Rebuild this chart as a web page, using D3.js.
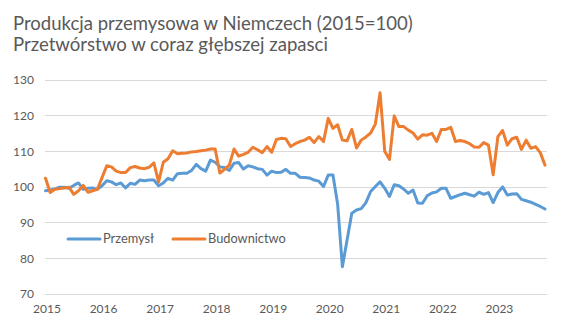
<!DOCTYPE html>
<html>
<head>
<meta charset="utf-8">
<script src="https://cdn.jsdelivr.net/npm/d3@7/dist/d3.min.js"></script>
<style>
  html, body { margin: 0; padding: 0; background: #fff; }
  svg { display: block; }
  text { font-family: Lato, "Open Sans", "Liberation Sans", sans-serif; fill: #595959; }
</style>
</head>
<body>
<svg id="chart" width="564" height="336"></svg>
<script>
// Monthly index values, 2015 = 100, from Jan 2015 to Nov 2023
const firstMonth = [2015, 0];
const monthCount = 107;

const przemysl = [
  98.8, 99.0, 99.3, 99.8, 99.8, 99.5, 100.3, 101.0, 99.2, 99.5, 99.6, 99.2,
  100.2, 101.6, 101.3, 100.5, 101.0, 99.6, 100.9, 100.6, 101.8, 101.6, 101.8, 101.8,
  100.2, 101.0, 102.3, 101.8, 103.6, 103.7, 103.7, 104.5, 106.2, 105.0, 104.3, 107.4,
  106.8, 105.5, 105.3, 104.5, 106.5, 106.7, 104.9, 105.8, 105.5, 105.0, 104.8, 103.2,
  104.3, 103.9, 104.0, 104.8, 103.7, 103.7, 102.6, 102.5, 102.4, 101.8, 101.5, 100.0,
  103.2, 103.2, 95.0, 77.5, 85.0, 92.5, 93.4, 93.8, 95.5, 98.6, 100.0, 101.3,
  99.5, 97.2, 100.5, 100.2, 99.3, 98.1, 99.0, 95.4, 95.3, 97.4, 98.2, 98.5,
  99.5, 99.5, 96.7, 97.2, 97.7, 98.1, 97.7, 97.3, 98.4, 97.8, 98.3, 95.5,
  98.3, 99.9, 97.6, 97.9, 98.0, 96.4, 96.0, 95.6, 95.0, 94.4, 93.7
];

const budownictwo = [
  102.3, 98.3, 99.2, 99.4, 99.6, 99.8, 97.8, 98.8, 100.3, 98.4, 98.8, 99.2,
  102.5, 105.8, 105.5, 104.3, 103.9, 103.9, 105.3, 105.6, 105.2, 105.0, 105.4, 106.6,
  101.3, 106.8, 107.8, 110.0, 109.2, 109.3, 109.4, 109.7, 109.8, 110.0, 110.2, 110.5,
  110.5, 103.8, 104.8, 106.0, 110.5, 108.5, 109.0, 109.6, 111.0, 110.3, 109.5, 111.2,
  109.6, 113.2, 113.5, 113.4, 111.2, 112.0, 112.6, 113.0, 113.8, 112.3, 114.0, 112.6,
  119.1, 116.3, 117.3, 113.0, 112.8, 116.0, 110.8, 113.0, 113.9, 115.0, 117.5, 126.3,
  109.8, 107.6, 119.8, 116.8, 116.8, 115.8, 115.0, 113.3, 114.5, 114.4, 114.9, 112.6,
  116.0, 116.0, 116.6, 112.6, 112.9, 112.6, 112.0, 111.1, 111.0, 112.3, 111.6, 103.3,
  114.0, 115.7, 111.6, 113.4, 113.8, 110.4, 113.0, 110.7, 111.2, 109.5, 106.0
];

const yTicks = [70, 80, 90, 100, 110, 120, 130];
const yearLabels = ["2015", "2016", "2017", "2018", "2019", "2020", "2021", "2022", "2023"];

const seriesNames = ["Przemysł", "Budownictwo"];
const seriesColors = ["#5B9BD5", "#ED7D31"];

const titleLines = [
  "Produkcja przemysowa w Niemczech (2015=100)",
  "Przetwórstwo w coraz głębszej zapasci"
];

// Month categories "YYYY-MM"
const months = d3.range(monthCount).map(i => {
  const y = firstMonth[0] + Math.floor((firstMonth[1] + i) / 12);
  const m = (firstMonth[1] + i) % 12 + 1;
  return y + "-" + String(m).padStart(2, "0");
});

const svg = d3.select("#chart");
const plot = { left: 45.5, right: 545, top: 79.5, bottom: 293.5 };
const gridLeft = 45, gridRight = 547;

const x = d3.scalePoint().domain(months).range([plot.left, plot.right]);
const y = d3.scaleLinear().domain([70, 130]).range([plot.bottom, plot.top]);

// Title, fitted to its measured width
const titleWidths = [400, 315];
const titleBaselines = [30, 51];
titleLines.forEach((t, i) => {
  const el = svg.append("text")
    .attr("x", 13).attr("y", titleBaselines[i])
    .style("font-size", "19px")
    .text(t);
  const w = el.node().getComputedTextLength();
  el.style("font-size", (19 * titleWidths[i] / w).toFixed(2) + "px");
});

// Horizontal gridlines
svg.append("g")
  .selectAll("line")
  .data(yTicks)
  .join("line")
  .attr("x1", gridLeft).attr("x2", gridRight)
  .attr("y1", d => Math.round(y(d)) + 0.5)
  .attr("y2", d => Math.round(y(d)) + 0.5)
  .attr("stroke", "#d9d9d9")
  .attr("stroke-width", 1);

// Y axis labels
const yAxis = d3.axisLeft(y).tickValues(yTicks).tickSize(0).tickPadding(0);
const gy = svg.append("g").attr("transform", "translate(34,0)").call(yAxis);
gy.select(".domain").remove();
gy.selectAll("text")
  .attr("dy", "0.35em")
  .style("font-size", "12px")
  .style("font-family", "Lato, 'Open Sans', sans-serif")
  .attr("fill", "#595959");

// X axis: year labels at each January
const januaries = months.filter(m => m.endsWith("-01"));
const xAxis = d3.axisBottom(x)
  .tickValues(januaries)
  .tickFormat(m => yearLabels[januaries.indexOf(m)])
  .tickSize(0).tickPadding(0);
const gx = svg.append("g").attr("transform", "translate(1,304)").call(xAxis);
gx.select(".domain").remove();
gx.selectAll("text")
  .attr("dy", "0.71em")
  .style("font-size", "12px")
  .style("font-family", "Lato, 'Open Sans', sans-serif")
  .attr("fill", "#595959");

// Series lines
const line = d3.line()
  .x((d, i) => x(months[i]))
  .y(d => y(d));

[przemysl, budownictwo].forEach((vals, i) => {
  svg.append("path")
    .datum(vals)
    .attr("d", line)
    .attr("fill", "none")
    .attr("stroke", seriesColors[i])
    .attr("stroke-width", 3)
    .attr("stroke-linejoin", "round")
    .attr("stroke-linecap", "round");
});

// Legend
const legendY = 239;
const legendItems = [
  { x1: 68, x2: 100, tx: 103 },
  { x1: 173, x2: 205, tx: 208 }
];
legendItems.forEach((it, i) => {
  svg.append("line")
    .attr("x1", it.x1).attr("x2", it.x2)
    .attr("y1", legendY).attr("y2", legendY)
    .attr("stroke", seriesColors[i])
    .attr("stroke-width", 3)
    .attr("stroke-linecap", "round");
  svg.append("text")
    .attr("x", it.tx).attr("y", legendY)
    .attr("dy", "0.35em")
    .style("font-size", "12.8px")
    .text(seriesNames[i]);
});
</script>
</body>
</html>
